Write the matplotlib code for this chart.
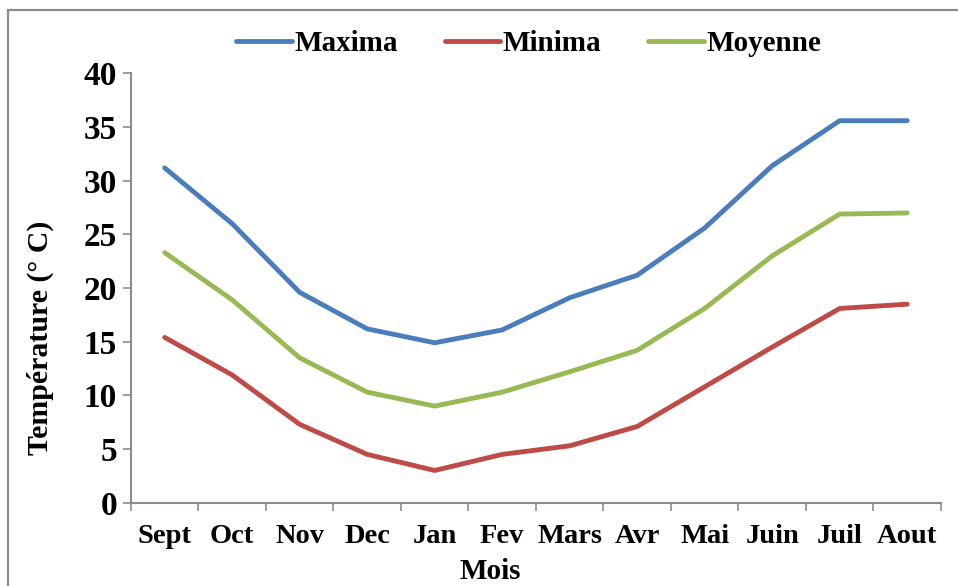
import matplotlib
matplotlib.use("Agg")
import matplotlib.pyplot as plt
from matplotlib.patches import Rectangle

plt.rcParams['font.family'] = ['Liberation Serif', 'DejaVu Serif']
plt.rcParams['font.weight'] = 'bold'

mois = ['Sept', 'Oct', 'Nov', 'Dec', 'Jan', 'Fev', 'Mars', 'Avr',
        'Mai', 'Juin', 'Juil', 'Aout']
maxima = [31.2, 26.0, 19.6, 16.2, 14.9, 16.1, 19.1, 21.2, 25.6, 31.4, 35.6, 35.6]
minima = [15.4, 11.9, 7.3, 4.5, 3.0, 4.5, 5.3, 7.1, 10.8, 14.5, 18.1, 18.5]
moyenne = [23.3, 18.9, 13.5, 10.3, 9.0, 10.3, 12.2, 14.2, 18.1, 23.0, 26.9, 27.0]

couleurs = {'Maxima': '#4a7ebb', 'Minima': '#be4b48', 'Moyenne': '#98b954'}
gris = '#8c8c8c'

fig = plt.figure(figsize=(9.58, 5.86), dpi=100)
ax = fig.add_axes([0.1367, 0.1422, 0.8455, 0.7324])

x = list(range(len(mois)))
for nom, serie in [('Maxima', maxima), ('Minima', minima), ('Moyenne', moyenne)]:
    ax.plot(x, serie, color=couleurs[nom], lw=3.5, label=nom,
            solid_capstyle='round', solid_joinstyle='round')

ax.set_xlim(-0.5, len(mois) - 0.5)
ax.set_ylim(0, 40)
ax.set_yticks(range(0, 41, 5))
ax.set_xticks(x)
ax.set_xticklabels(mois)
ax.set_xticks([i - 0.5 for i in range(len(mois) + 1)], minor=True)

ax.tick_params(axis='x', which='major', length=0, pad=15, labelsize=20.5)
ax.tick_params(axis='x', which='minor', length=6, color=gris, width=1.2)
ax.tick_params(axis='y', length=6, color=gris, width=1.2, pad=4, labelsize=24)

for side in ['top', 'right']:
    ax.spines[side].set_visible(False)
for side in ['left', 'bottom']:
    ax.spines[side].set_color(gris)
    ax.spines[side].set_linewidth(1.5)

fig.text(0.042, 0.423, 'Température (° C)', rotation=90, ha='center',
         va='center', fontsize=21.5, fontweight='bold')
fig.text(0.512, 0.024, 'Mois', ha='center', va='center',
         fontsize=21, fontweight='bold')

fig.legend(loc='center', bbox_to_anchor=(0.552, 0.926), ncol=3, frameon=False,
           fontsize=21, handlelength=1.9, columnspacing=1.6, handletextpad=0.1)

# cadre du graphique
fig.patches.append(Rectangle((8 / 958, -0.05), 1.1, 1 - 10 / 586 + 0.05,
                             transform=fig.transFigure, fill=False,
                             edgecolor=gris, lw=1.6))

fig.savefig('out.png', dpi=100)
